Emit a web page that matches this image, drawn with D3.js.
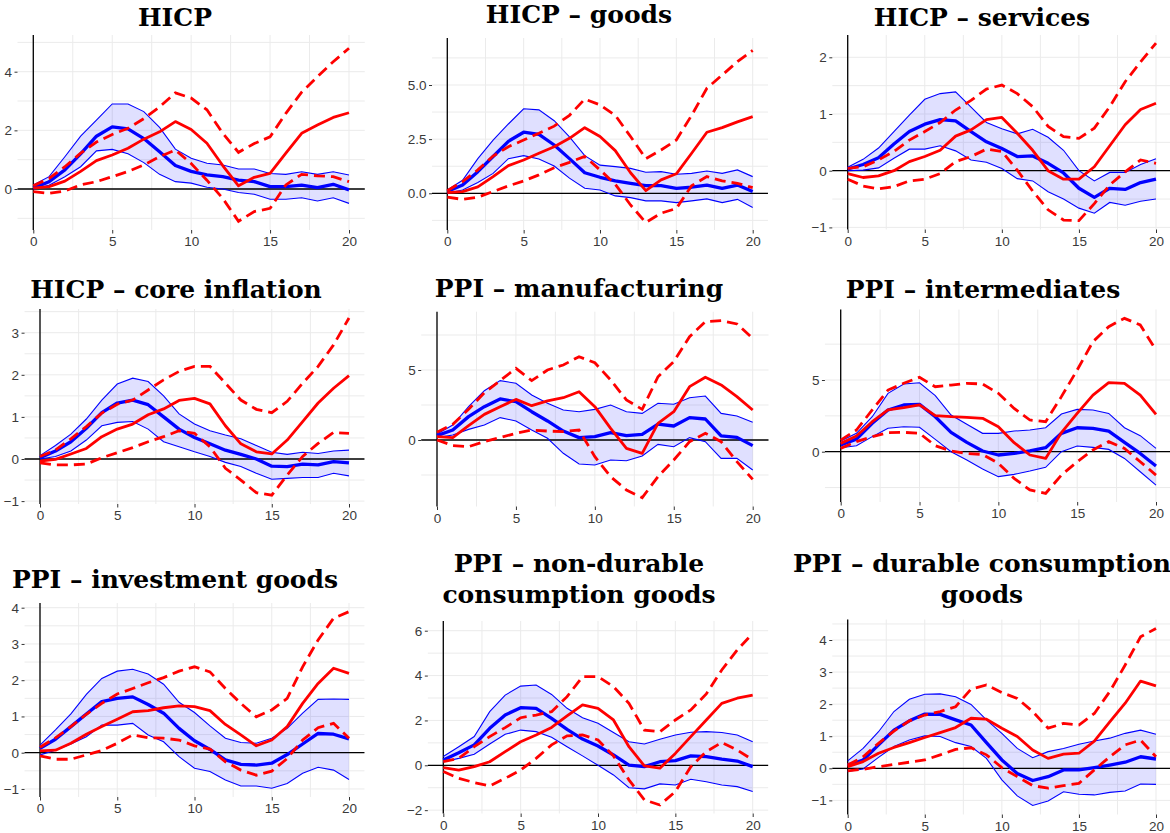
<!DOCTYPE html>
<html>
<head>
<meta charset="utf-8">
<script src="https://cdn.jsdelivr.net/npm/d3@7"></script>
<style>
  html, body { margin: 0; padding: 0; background: #ffffff; }
  svg { display: block; }
</style>
</head>
<body>
<svg id="chart" width="1170" height="833"></svg>
<script>
// ---------------- DATA ----------------
const horizons = [0,1,2,3,4,5,6,7,8,9,10,11,12,13,14,15,16,17,18,19,20];
const xTicks = [0,5,10,15,20];

const titles = [
  ["HICP"],
  ["HICP \u2013 goods"],
  ["HICP \u2013 services"],
  ["HICP \u2013 core inflation"],
  ["PPI \u2013 manufacturing"],
  ["PPI \u2013 intermediates"],
  ["PPI \u2013 investment goods"],
  ["PPI \u2013 non-durable", "consumption goods"],
  ["PPI \u2013 durable consumption", "goods"]
];

// y tick labels per panel
const yTicks_hicp = [0, 2, 4];
const yTicks_goods = [0, 2.5, 5];
const yTicks_services = [-1, 0, 1, 2];
const yTicks_core = [-1, 0, 1, 2, 3];
const yTicks_manuf = [0, 5];
const yTicks_interm = [0, 5];
const yTicks_invest = [-1, 0, 1, 2, 3, 4];
const yTicks_nondur = [-2, 0, 2, 4, 6];
const yTicks_durable = [-1, 0, 1, 2, 3, 4];

// HICP
const hicp_bandLow  = [0.00,0.13,0.42,0.76,1.30,1.35,1.20,0.90,0.50,0.25,0.20,0.06,0.00,-0.12,-0.18,-0.35,-0.35,-0.30,-0.41,-0.30,-0.49];
const hicp_bandHigh = [0.14,0.42,1.10,1.80,2.35,2.90,2.90,2.64,2.10,1.36,1.05,0.88,0.82,0.68,0.68,0.53,0.50,0.59,0.50,0.59,0.48];
const hicp_median   = [0.03,0.25,0.65,1.20,1.80,2.12,2.05,1.72,1.27,0.80,0.60,0.48,0.42,0.30,0.25,0.08,0.08,0.13,0.05,0.16,-0.03];
const hicp_alt      = [0.03,0.08,0.27,0.60,0.97,1.16,1.39,1.70,1.95,2.30,2.03,1.56,0.80,0.11,0.40,0.53,1.22,1.90,2.18,2.44,2.60];
const hicp_altHigh  = [0.11,0.36,0.76,1.22,1.60,1.86,2.07,2.40,2.80,3.28,3.10,2.70,1.90,1.25,1.55,1.78,2.58,3.30,3.83,4.34,4.80];
const hicp_altLow   = [-0.09,-0.15,-0.07,0.14,0.25,0.42,0.60,0.82,1.10,1.33,0.87,0.30,-0.32,-1.10,-0.77,-0.66,0.14,0.50,0.45,0.42,0.25];

// HICP - goods
const goods_bandLow  = [0.00,0.15,0.50,0.92,1.60,1.74,1.58,1.26,0.70,0.23,0.15,-0.12,-0.20,-0.35,-0.35,-0.43,-0.35,-0.26,-0.43,-0.28,-0.66];
const goods_bandHigh = [0.15,0.60,1.60,2.45,3.20,3.90,3.85,3.35,2.60,1.74,1.30,1.23,1.15,0.97,1.00,0.88,0.92,1.03,0.92,1.08,0.77];
const goods_median   = [0.08,0.38,1.00,1.70,2.40,2.82,2.72,2.23,1.60,0.95,0.74,0.57,0.46,0.35,0.35,0.23,0.28,0.38,0.23,0.38,0.08];
const goods_alt      = [0.03,0.08,0.30,0.77,1.28,1.54,1.85,2.15,2.54,3.03,2.62,1.97,0.95,0.12,0.62,0.90,1.85,2.82,3.03,3.30,3.54];
const goods_altHigh  = [0.12,0.54,1.08,1.72,2.15,2.46,2.77,3.10,3.60,4.35,4.08,3.60,2.62,1.60,2.00,2.46,3.60,4.85,5.46,6.08,6.60];
const goods_altLow   = [-0.18,-0.28,-0.18,0.08,0.34,0.57,0.85,1.18,1.43,1.70,1.08,0.42,-0.54,-1.35,-0.92,-0.70,0.35,0.77,0.57,0.46,0.26];

// HICP - services
const services_bandLow  = [0.00,0.01,0.05,0.22,0.38,0.38,0.44,0.35,0.19,0.15,0.04,-0.14,-0.18,-0.37,-0.50,-0.66,-0.75,-0.56,-0.61,-0.54,-0.50];
const services_bandHigh = [0.06,0.20,0.40,0.69,0.98,1.26,1.36,1.39,1.12,0.85,0.74,0.65,0.73,0.59,0.36,0.00,-0.18,-0.03,-0.03,0.11,0.21];
const services_median   = [0.03,0.11,0.23,0.47,0.69,0.82,0.90,0.88,0.69,0.51,0.39,0.25,0.26,0.13,-0.04,-0.31,-0.47,-0.31,-0.33,-0.21,-0.15];
const services_alt      = [-0.05,-0.12,-0.09,0.00,0.16,0.25,0.36,0.61,0.72,0.90,0.94,0.66,0.36,0.00,-0.15,-0.15,0.07,0.44,0.81,1.08,1.19];
const services_altHigh  = [0.04,0.07,0.19,0.34,0.54,0.69,0.85,1.07,1.24,1.44,1.51,1.36,1.13,0.78,0.60,0.57,0.75,1.13,1.57,1.92,2.25];
const services_altLow   = [-0.15,-0.27,-0.32,-0.28,-0.18,-0.15,-0.05,0.16,0.25,0.38,0.34,0.01,-0.36,-0.69,-0.87,-0.88,-0.58,-0.25,-0.02,0.19,0.13];

// HICP - core inflation
const core_bandLow  = [0.00,0.06,0.19,0.45,0.79,0.87,0.89,0.71,0.41,0.29,0.17,0.06,-0.08,-0.18,-0.34,-0.48,-0.46,-0.44,-0.44,-0.34,-0.40];
const core_bandHigh = [0.08,0.32,0.59,0.95,1.40,1.78,1.92,1.84,1.50,1.07,0.83,0.67,0.57,0.48,0.32,0.16,0.11,0.16,0.13,0.19,0.21];
const core_median   = [0.03,0.19,0.41,0.73,1.10,1.33,1.40,1.29,1.00,0.71,0.51,0.36,0.21,0.11,0.00,-0.17,-0.18,-0.12,-0.14,-0.06,-0.09];
const core_alt      = [-0.05,-0.01,0.12,0.25,0.53,0.71,0.83,1.05,1.19,1.39,1.44,1.31,0.79,0.36,0.17,0.12,0.45,0.89,1.33,1.68,1.98];
const core_altHigh  = [0.06,0.21,0.48,0.77,1.09,1.30,1.40,1.64,1.88,2.08,2.20,2.20,1.80,1.40,1.18,1.10,1.37,1.80,2.20,2.71,3.35];
const core_altLow   = [-0.09,-0.14,-0.14,-0.12,0.03,0.15,0.27,0.41,0.53,0.67,0.61,0.29,-0.22,-0.50,-0.80,-0.86,-0.38,0.06,0.37,0.63,0.61];

// PPI - manufacturing
const manuf_bandLow  = [0.17,0.36,0.76,1.07,1.60,1.36,0.71,0.12,-0.95,-1.71,-1.79,-1.43,-1.48,-1.14,-0.31,-0.48,0.17,-0.12,-1.31,-1.31,-2.14];
const manuf_bandHigh = [0.43,1.07,2.38,3.52,4.24,4.05,3.21,2.62,2.14,2.02,2.19,2.50,2.02,1.90,2.62,2.55,3.02,3.14,1.90,1.71,1.26];
const manuf_median   = [0.31,0.71,1.67,2.38,2.93,2.74,2.02,1.36,0.64,0.17,0.24,0.52,0.31,0.40,1.14,1.00,1.60,1.50,0.29,0.19,-0.40];
const manuf_alt      = [0.24,0.17,1.02,1.83,2.38,2.90,2.45,2.79,3.02,3.45,2.38,0.83,-0.60,-0.95,1.19,2.02,3.81,4.48,3.93,3.10,2.14];
const manuf_altHigh  = [0.55,1.12,2.19,3.38,4.24,5.12,4.24,5.00,5.36,5.95,5.52,4.29,2.86,2.19,4.52,5.60,7.38,8.45,8.52,8.29,7.26];
const manuf_altLow   = [0.00,-0.40,-0.48,-0.12,0.17,0.48,0.71,0.64,0.60,0.71,-1.19,-2.62,-3.57,-4.12,-2.62,-1.43,-0.12,0.48,-0.12,-1.55,-2.81];

// PPI - intermediates
const interm_bandLow  = [0.28,0.42,1.05,1.63,1.74,1.70,0.86,0.00,-0.58,-1.21,-1.74,-1.58,-1.35,-1.09,0.00,0.40,0.30,0.16,-0.47,-1.40,-2.33];
const interm_bandHigh = [0.74,1.28,2.44,4.07,4.72,4.81,3.91,2.56,1.91,1.28,1.28,1.44,1.51,1.67,2.63,2.95,2.91,2.67,1.67,1.12,0.23];
const interm_median   = [0.47,0.88,1.98,2.91,3.26,3.30,2.44,1.35,0.65,0.05,-0.23,-0.12,0.05,0.28,1.28,1.67,1.63,1.44,0.65,-0.12,-1.00];
const interm_alt      = [0.58,1.09,2.09,2.91,3.07,3.26,2.51,2.44,2.40,2.33,1.74,0.63,-0.23,-0.47,1.33,2.67,3.95,4.81,4.77,3.95,2.60];
const interm_altHigh  = [0.81,1.51,2.91,4.30,4.77,5.19,4.53,4.65,4.77,4.72,4.07,3.02,2.21,2.09,3.84,5.70,7.67,8.72,9.30,8.84,7.09];
const interm_altLow   = [0.23,0.70,1.05,1.33,1.35,1.28,0.42,0.05,-0.12,-0.19,-0.81,-1.86,-2.67,-2.91,-1.63,-0.70,0.12,0.70,0.23,-0.70,-1.63];

// PPI - investment goods
const invest_bandLow  = [-0.06,0.07,0.24,0.44,0.76,0.76,0.81,0.49,0.30,-0.11,-0.43,-0.52,-0.75,-0.92,-0.92,-0.98,-0.85,-0.57,-0.40,-0.48,-0.74];
const invest_bandHigh = [0.21,0.63,1.07,1.61,2.05,2.25,2.30,2.17,1.89,1.39,1.11,0.74,0.40,0.28,0.26,0.40,0.67,1.09,1.47,1.48,1.47];
const invest_median   = [0.12,0.37,0.72,1.07,1.41,1.50,1.54,1.33,1.09,0.67,0.33,0.09,-0.20,-0.32,-0.34,-0.29,-0.05,0.24,0.53,0.51,0.38];
const invest_alt      = [0.05,0.07,0.26,0.51,0.72,0.92,1.13,1.16,1.24,1.29,1.27,1.16,0.78,0.49,0.19,0.35,0.72,1.36,1.91,2.33,2.19];
const invest_altHigh  = [0.15,0.41,0.72,1.06,1.36,1.62,1.77,1.93,2.07,2.25,2.37,2.23,1.77,1.36,0.99,1.18,1.50,2.37,3.11,3.71,3.89];
const invest_altLow   = [-0.09,-0.18,-0.18,-0.06,0.06,0.26,0.49,0.41,0.40,0.35,0.19,0.10,-0.25,-0.48,-0.62,-0.51,-0.16,0.35,0.69,0.81,0.40];

// PPI - non-durable consumption goods
const nondur_bandLow  = [0.16,0.31,0.49,0.95,1.38,1.57,1.50,1.25,0.83,0.42,0.00,-0.43,-1.00,-1.05,-0.83,-0.88,-0.62,-0.73,-0.88,-0.95,-1.17];
const nondur_bandHigh = [0.39,0.83,1.28,2.39,3.13,3.53,3.58,3.16,2.54,2.12,1.87,1.46,1.05,0.95,1.16,1.35,1.47,1.50,1.46,1.35,1.05];
const nondur_median   = [0.24,0.56,0.91,1.65,2.24,2.57,2.54,2.09,1.60,1.17,0.86,0.46,0.01,-0.06,0.16,0.21,0.42,0.39,0.28,0.19,-0.06];
const nondur_alt      = [-0.10,-0.21,-0.06,0.16,0.61,1.05,1.35,1.69,2.20,2.69,2.54,2.02,0.83,-0.03,-0.13,0.53,1.28,2.02,2.76,2.99,3.13];
const nondur_altHigh  = [0.16,0.31,0.83,1.28,1.68,2.12,2.24,2.39,3.06,3.95,3.95,3.51,2.76,1.57,1.50,2.02,2.47,3.18,4.25,5.14,5.88];
const nondur_altLow   = [-0.28,-0.58,-0.77,-0.92,-0.58,-0.21,0.31,0.91,1.31,1.35,1.13,0.42,-0.65,-1.54,-1.77,-1.17,-0.06,0.61,1.02,0.68,0.24];

// PPI - durable consumption goods
const durable_bandLow  = [-0.10,-0.02,0.34,0.68,0.88,1.01,0.99,0.80,0.68,0.31,-0.36,-0.86,-1.16,-1.02,-0.73,-0.81,-0.83,-0.75,-0.71,-0.49,-0.50];
const durable_bandHigh = [0.23,0.62,1.14,1.77,2.15,2.31,2.32,2.23,1.99,1.51,1.09,0.62,0.33,0.52,0.62,0.75,0.85,0.94,1.09,1.19,1.06];
const durable_median   = [0.10,0.26,0.73,1.19,1.48,1.69,1.68,1.51,1.35,0.80,0.26,-0.16,-0.38,-0.26,-0.05,-0.05,0.02,0.10,0.19,0.36,0.29];
const durable_alt      = [0.05,0.21,0.47,0.65,0.80,0.96,1.11,1.27,1.56,1.53,1.25,0.99,0.57,0.31,0.44,0.47,0.85,1.45,2.03,2.72,2.57];
const durable_altHigh  = [0.10,0.36,0.78,1.16,1.48,1.66,1.77,1.92,2.47,2.60,2.36,2.18,1.77,1.25,1.40,1.35,1.71,2.39,3.22,4.10,4.36];
const durable_altLow   = [-0.08,-0.03,0.05,0.12,0.19,0.26,0.42,0.59,0.64,0.42,0.02,-0.26,-0.54,-0.62,-0.54,-0.47,-0.05,0.36,0.73,0.88,0.36];

const panelData = [
  {bandLow: hicp_bandLow, bandHigh: hicp_bandHigh, median: hicp_median, alt: hicp_alt, altHigh: hicp_altHigh, altLow: hicp_altLow, ticks: yTicks_hicp, fmt: "d"},
  {bandLow: goods_bandLow, bandHigh: goods_bandHigh, median: goods_median, alt: goods_alt, altHigh: goods_altHigh, altLow: goods_altLow, ticks: yTicks_goods, fmt: ".1f"},
  {bandLow: services_bandLow, bandHigh: services_bandHigh, median: services_median, alt: services_alt, altHigh: services_altHigh, altLow: services_altLow, ticks: yTicks_services, fmt: "d"},
  {bandLow: core_bandLow, bandHigh: core_bandHigh, median: core_median, alt: core_alt, altHigh: core_altHigh, altLow: core_altLow, ticks: yTicks_core, fmt: "d"},
  {bandLow: manuf_bandLow, bandHigh: manuf_bandHigh, median: manuf_median, alt: manuf_alt, altHigh: manuf_altHigh, altLow: manuf_altLow, ticks: yTicks_manuf, fmt: "d"},
  {bandLow: interm_bandLow, bandHigh: interm_bandHigh, median: interm_median, alt: interm_alt, altHigh: interm_altHigh, altLow: interm_altLow, ticks: yTicks_interm, fmt: "d"},
  {bandLow: invest_bandLow, bandHigh: invest_bandHigh, median: invest_median, alt: invest_alt, altHigh: invest_altHigh, altLow: invest_altLow, ticks: yTicks_invest, fmt: "d"},
  {bandLow: nondur_bandLow, bandHigh: nondur_bandHigh, median: nondur_median, alt: nondur_alt, altHigh: nondur_altHigh, altLow: nondur_altLow, ticks: yTicks_nondur, fmt: "d"},
  {bandLow: durable_bandLow, bandHigh: durable_bandHigh, median: durable_median, alt: durable_alt, altHigh: durable_altHigh, altLow: durable_altLow, ticks: yTicks_durable, fmt: "d"}
];

// ---------------- LAYOUT (pixel calibration of each panel) ----------------
const layout = [
  {x0: 33.3,  x20: 349,   top: 35,    bottom: 230,   yA: 0, pA: 189,   yB: 4, pB: 71.7,  cx: 175, ty: [26]},
  {x0: 447.3, x20: 752.7, top: 38,    bottom: 230,   yA: 0, pA: 193.3, yB: 5, pB: 85,    cx: 579, ty: [23]},
  {x0: 847.7, x20: 1156,  top: 35,    bottom: 229.5, yA: 0, pA: 170.7, yB: 2, pB: 57.3,  cx: 982, ty: [25.7]},
  {x0: 40,    x20: 349,   top: 309,   bottom: 504,   yA: 0, pA: 459,   yB: 3, pB: 332.7, cx: 176, ty: [298.3]},
  {x0: 437,   x20: 752.7, top: 311.7, bottom: 506.5, yA: 0, pA: 440,   yB: 5, pB: 370,   cx: 579, ty: [296.7]},
  {x0: 840.7, x20: 1156,  top: 309.5, bottom: 502,   yA: 0, pA: 451.7, yB: 5, pB: 380,   cx: 983, ty: [298.3]},
  {x0: 40,    x20: 349,   top: 603,   bottom: 797,   yA: 0, pA: 752.7, yB: 4, pB: 607.7, cx: 175, ty: [588]},
  {x0: 443.3, x20: 752.7, top: 621,   bottom: 813.5, yA: 0, pA: 765.3, yB: 6, pB: 630.7, cx: 579, ty: [571.7, 603.3]},
  {x0: 847.7, x20: 1156,  top: 619.5, bottom: 814.5, yA: 0, pA: 768.3, yB: 4, pB: 640,   cx: 982, ty: [571.7, 603.3]}
];

// ---------------- DRAW ----------------
const svg = d3.select("#chart");
const GRID = "#ebebeb";
const BLUE = "#0000ff";
const RED = "#ff0000";

panelData.forEach((pd, i) => {
  const L = layout[i];
  const g = svg.append("g");
  const x = d3.scaleLinear().domain([0, 20]).range([L.x0, L.x20]);
  const y = d3.scaleLinear().domain([L.yA, L.yB]).range([L.pA, L.pB]);
  const left = x(-1), right = x(21);

  // grid - vertical (major + minor)
  const xGrid = [0, 2.5, 5, 7.5, 10, 12.5, 15, 17.5, 20];
  g.selectAll(".vg").data(xGrid).join("line")
    .attr("x1", d => x(d)).attr("x2", d => x(d))
    .attr("y1", L.top).attr("y2", L.bottom)
    .attr("stroke", GRID).attr("stroke-width", 1);

  // grid - horizontal (major + minor)
  const t = pd.ticks;
  const step = t.length > 1 ? t[1] - t[0] : 1;
  const yGrid = [];
  for (let v = t[0] - step; v <= t[t.length - 1] + step + 1e-9; v += step / 2) yGrid.push(+v.toFixed(6));
  const [yMin, yMax] = [y.invert(L.bottom), y.invert(L.top)];
  g.selectAll(".hg").data(yGrid.filter(v => v >= yMin && v <= yMax)).join("line")
    .attr("x1", left).attr("x2", right)
    .attr("y1", d => y(d)).attr("y2", d => y(d))
    .attr("stroke", GRID).attr("stroke-width", 1);

  // ribbon
  const area = d3.area()
    .x((d, k) => x(horizons[k]))
    .y0((d, k) => y(pd.bandLow[k]))
    .y1((d, k) => y(pd.bandHigh[k]));
  g.append("path").datum(horizons).attr("d", area)
    .attr("fill", "rgba(0,0,255,0.12)").attr("stroke", "none");

  // zero lines
  g.append("line").attr("x1", left).attr("x2", right).attr("y1", y(0)).attr("y2", y(0))
    .attr("stroke", "#000").attr("stroke-width", 1.3);
  g.append("line").attr("x1", x(0)).attr("x2", x(0)).attr("y1", L.top).attr("y2", L.bottom)
    .attr("stroke", "#000").attr("stroke-width", 1.3);

  const line = arr => d3.line().x((d, k) => x(horizons[k])).y((d, k) => y(arr[k]))(horizons);

  g.append("path").attr("d", line(pd.bandLow)).attr("fill", "none").attr("stroke", BLUE).attr("stroke-width", 1.1);
  g.append("path").attr("d", line(pd.bandHigh)).attr("fill", "none").attr("stroke", BLUE).attr("stroke-width", 1.1);
  g.append("path").attr("d", line(pd.median)).attr("fill", "none").attr("stroke", BLUE).attr("stroke-width", 3.3)
    .attr("stroke-linejoin", "round");
  g.append("path").attr("d", line(pd.alt)).attr("fill", "none").attr("stroke", RED).attr("stroke-width", 2.8)
    .attr("stroke-linejoin", "round");
  g.append("path").attr("d", line(pd.altHigh)).attr("fill", "none").attr("stroke", RED).attr("stroke-width", 2.8)
    .attr("stroke-dasharray", "11,6");
  g.append("path").attr("d", line(pd.altLow)).attr("fill", "none").attr("stroke", RED).attr("stroke-width", 2.8)
    .attr("stroke-dasharray", "11,6");

  // axes
  const yAxis = d3.axisLeft(y).tickValues(pd.ticks).tickFormat(d3.format(pd.fmt)).tickSize(3).tickPadding(2.5);
  const ya = g.append("g").attr("transform", `translate(${left},0)`).call(yAxis);
  const xAxis = d3.axisBottom(x).tickValues(xTicks).tickFormat(d3.format("d")).tickSize(3.5).tickPadding(3);
  const xa = g.append("g").attr("transform", `translate(0,${L.bottom})`).call(xAxis);
  [ya, xa].forEach(a => {
    a.select(".domain").remove();
    a.selectAll(".tick line").attr("stroke", "#333333").attr("stroke-width", 1);
    a.selectAll(".tick text").attr("fill", "#3a3a3a")
      .style("font-family", "'Liberation Sans', Arial, sans-serif").style("font-size", "13.5px");
  });

  // title
  titles[i].forEach((txt, j) => {
    svg.append("text").attr("x", L.cx).attr("y", L.ty[j]).attr("text-anchor", "middle")
      .style("font-family", "'DejaVu Serif', serif").style("font-weight", "bold").style("font-size", "25px")
      .attr("fill", "#000").text(txt);
  });
});
</script>
</body>
</html>
